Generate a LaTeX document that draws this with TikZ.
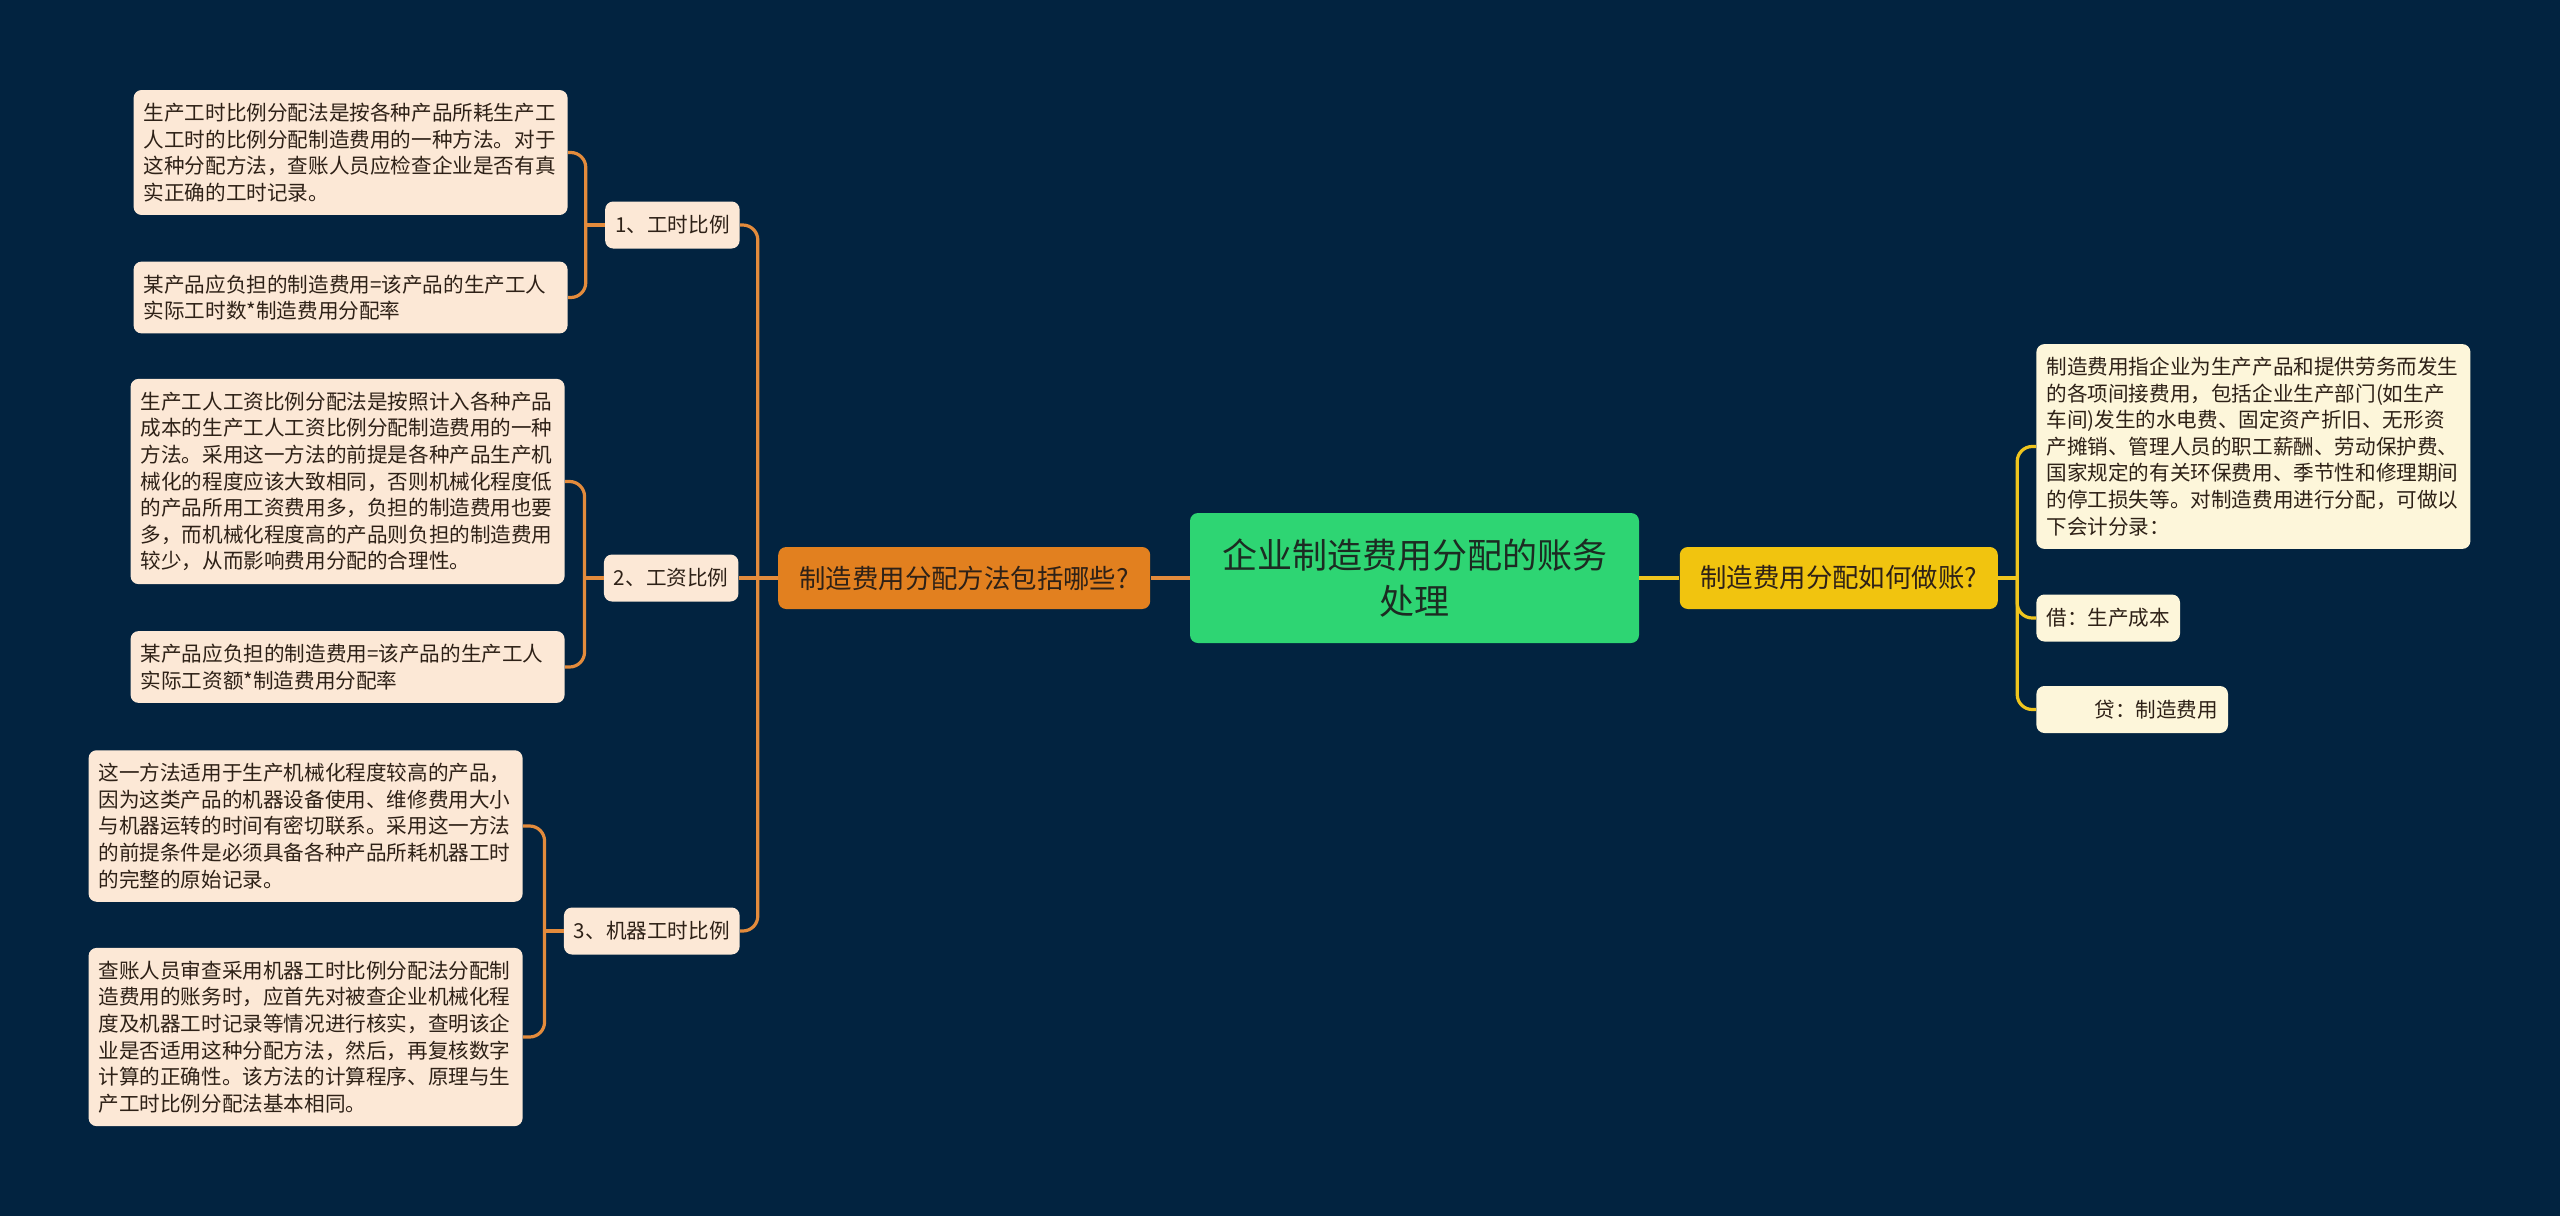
\documentclass[tikz,border=0pt]{standalone}
\usepackage{fontspec}
\setmainfont{Noto Sans CJK SC}
\usetikzlibrary{positioning}
\definecolor{bg}{HTML}{022340}
\definecolor{rootgreen}{HTML}{2ED573}
\definecolor{branchorange}{HTML}{E2801F}
\definecolor{branchyellow}{HTML}{F1C40F}
\definecolor{leafpeach}{HTML}{FCE8D6}
\definecolor{leafcream}{HTML}{FDF6DA}
\definecolor{linkorange}{HTML}{E38B3C}
\definecolor{linkyellow}{HTML}{EFC51E}
\definecolor{ink}{HTML}{2E2117}
\definecolor{rootink}{HTML}{1C2B22}
\tikzset{
  rootbox/.style={fill=rootgreen,rounded corners=4pt,minimum width=224.5pt,minimum height=65pt,align=center,font=\fontsize{17.5pt}{23pt}\selectfont,text=rootink},
  branch/.style={fill=#1,rounded corners=4pt,minimum height=31pt,align=center,font=\fontsize{13.2pt}{16pt}\selectfont,text=ink},
  method/.style={fill=leafpeach,rounded corners=4pt,inner xsep=5pt,minimum height=23.5pt,font=\fontsize{10.3pt}{13.3pt}\selectfont,text=ink},
  leaf/.style={fill=#1,rounded corners=4pt,inner xsep=5pt,inner ysep=6.5pt,text width=207pt,align=left,font=\fontsize{10.3pt}{13.3pt}\selectfont,text=ink},
  entrybox/.style={fill=leafcream,rounded corners=4pt,inner xsep=5pt,minimum height=23.5pt,font=\fontsize{10.3pt}{13.3pt}\selectfont,text=ink},
  wire/.style={draw=#1,line width=1.6pt,rounded corners=7.5pt}
}

\begin{document}
\begin{tikzpicture}[x=0.5pt,y=-0.5pt]
  \fill[bg] (0,0) rectangle (2560,1216);

  \node[rootbox] (root) at (1414.5,578) {企业制造费用分配的账务\\处理};
  \node[branch=branchorange,left=19.5pt of root,minimum width=186pt] (howto) {制造费用分配方法包括哪些?};
  \node[branch=branchyellow,right=20pt of root,minimum width=159pt] (entry) {制造费用分配如何做账?};

  % left side: three methods
  \node[method,anchor=east] (m1) at (740,225) {1、工时比例};
  \node[method,left=19.5pt of howto] (m2) {2、工资比例};
  \node[method,anchor=east] (m3) at (740,931) {3、机器工时比例};

  \node[leaf=leafpeach,anchor=east] (m1a) at (568,152.5) {生产工时比例分配法是按各种产品所耗生产工\\人工时的比例分配制造费用的一种方法。对于\\这种分配方法，查账人员应检查企业是否有真\\实正确的工时记录。};
  \node[leaf=leafpeach,anchor=east] (m1b) at (568,297.5) {某产品应负担的制造费用=该产品的生产工人\\实际工时数*制造费用分配率};
  \node[leaf=leafpeach,anchor=east] (m2a) at (565,481.5) {生产工人工资比例分配法是按照计入各种产品\\成本的生产工人工资比例分配制造费用的一种\\方法。采用这一方法的前提是各种产品生产机\\械化的程度应该大致相同，否则机械化程度低\\的产品所用工资费用多，负担的制造费用也要\\多，而机械化程度高的产品则负担的制造费用\\较少，从而影响费用分配的合理性。};
  \node[leaf=leafpeach,anchor=east] (m2b) at (565,667) {某产品应负担的制造费用=该产品的生产工人\\实际工资额*制造费用分配率};
  \node[leaf=leafpeach,anchor=east] (m3a) at (523,826) {这一方法适用于生产机械化程度较高的产品，\\因为这类产品的机器设备使用、维修费用大小\\与机器运转的时间有密切联系。采用这一方法\\的前提条件是必须具备各种产品所耗机器工时\\的完整的原始记录。};
  \node[leaf=leafpeach,anchor=east] (m3b) at (523,1037) {查账人员审查采用机器工时比例分配法分配制\\造费用的账务时，应首先对被查企业机械化程\\度及机器工时记录等情况进行核实，查明该企\\业是否适用这种分配方法，然后，再复核数字\\计算的正确性。该方法的计算程序、原理与生\\产工时比例分配法基本相同。};

  % right side: bookkeeping
  \node[leaf=leafcream,anchor=west] (r1) at (2036,446.5) {制造费用指企业为生产产品和提供劳务而发生\\的各项间接费用，包括企业生产部门(如生产\\车间)发生的水电费、固定资产折旧、无形资\\产摊销、管理人员的职工薪酬、劳动保护费、\\国家规定的有关环保费用、季节性和修理期间\\的停工损失等。对制造费用进行分配，可做以\\下会计分录：};
  \node[entrybox,anchor=west] (r2) at (2036,618) {借：生产成本};
  \node[entrybox,anchor=west] (r3) at (2036,709.5) {\hspace*{24pt}贷：制造费用};

  \coordinate (jhow) at ([xshift=-10pt]howto.west);
  \coordinate (jm1) at ([xshift=-9.5pt]m1.west);
  \coordinate (jm2) at ([xshift=-9.5pt]m2.west);
  \coordinate (jm3) at ([xshift=-9.5pt]m3.west);
  \coordinate (jentry) at ([xshift=9.5pt]entry.east);

  \draw[wire=linkorange] (root) -- (howto);
  \draw[wire=linkorange] (howto.west) -- (m2.east);
  \draw[wire=linkorange] (m1.east) -| (jhow) |- (m3.east);
  \draw[wire=linkorange] (m1.west) -- (jm1);
  \draw[wire=linkorange] (m1a.east) -| (jm1) |- (m1b.east);
  \draw[wire=linkorange] (m2.west) -- (jm2);
  \draw[wire=linkorange] (m2a.east) -| (jm2) |- (m2b.east);
  \draw[wire=linkorange] (m3.west) -- (jm3);
  \draw[wire=linkorange] (m3a.east) -| (jm3) |- (m3b.east);

  \draw[wire=linkyellow] (root) -- (entry);
  \draw[wire=linkyellow] (entry.east) -- (jentry);
  \draw[wire=linkyellow] (r1.west) -| (jentry) |- (r3.west);
  \draw[wire=linkyellow] (jentry) |- (r2.west);
\end{tikzpicture}
\end{document}
